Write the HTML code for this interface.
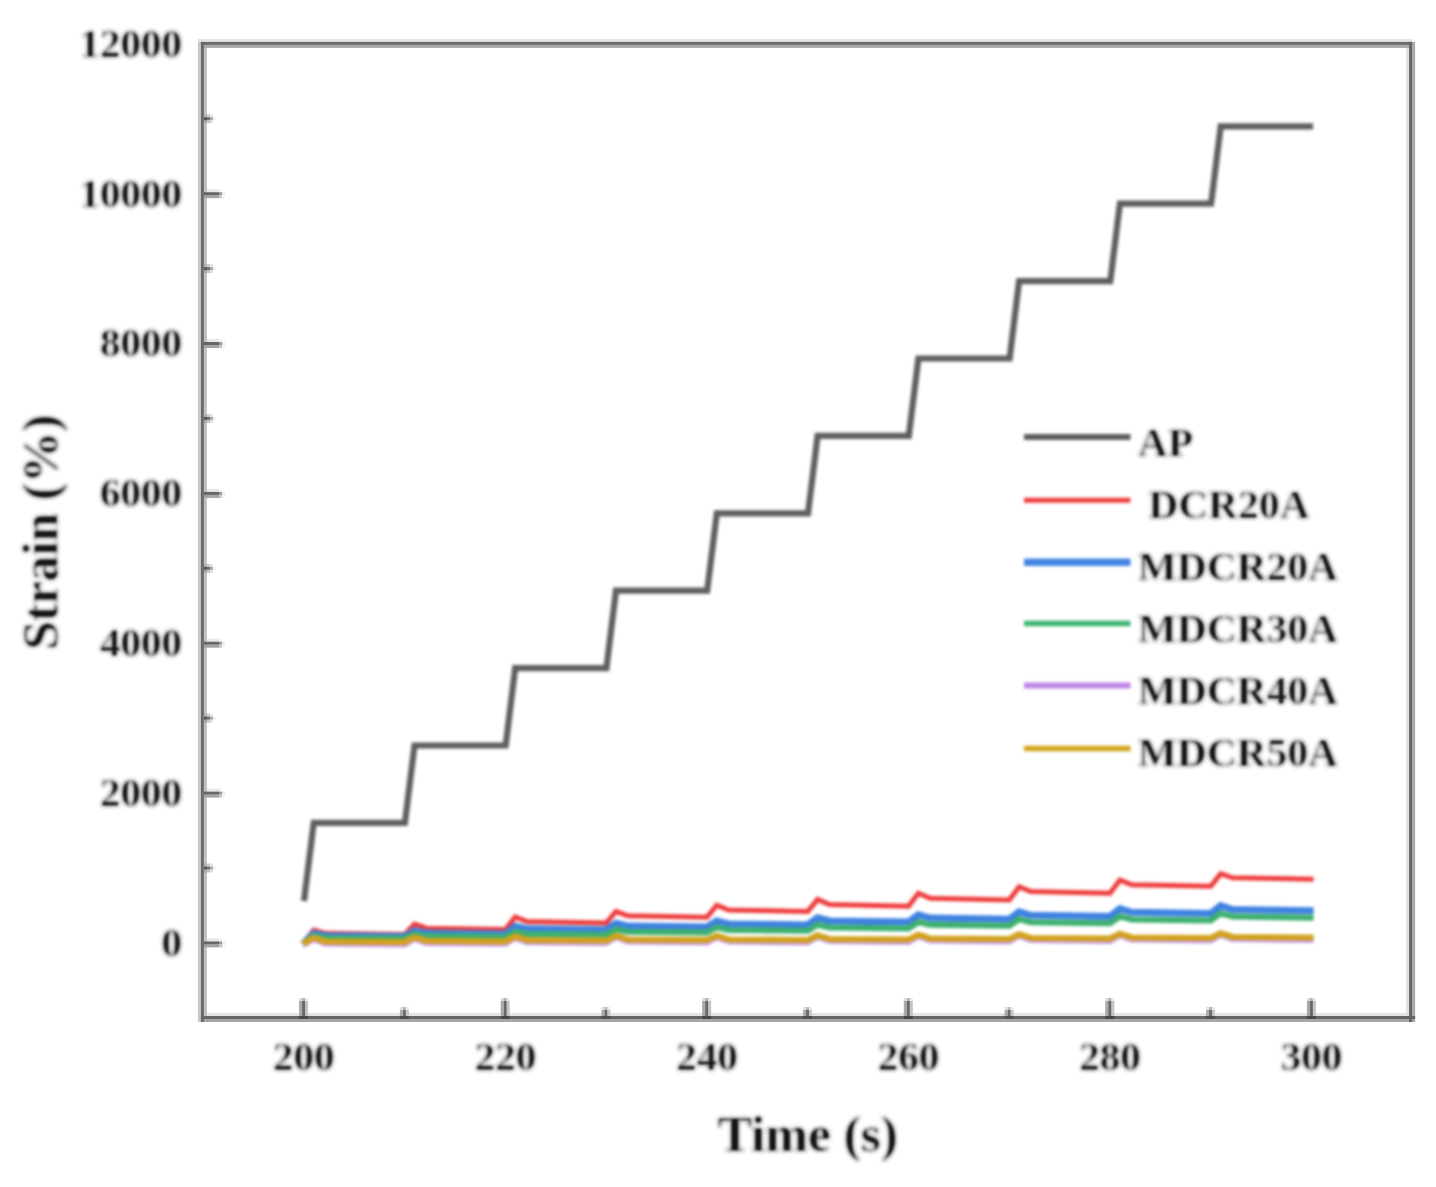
<!DOCTYPE html>
<html><head><meta charset="utf-8"><title>Strain vs Time</title>
<style>
html,body{margin:0;padding:0;background:#fff;}
body{width:1436px;height:1187px;overflow:hidden;}
svg{display:block;}
text{font-family:"Liberation Serif","DejaVu Serif",serif;font-weight:bold;fill:#141418;stroke:#ffffff;stroke-width:0px;}
.t40{font-size:41px;}
.t50{font-size:51.3px;}
polyline{fill:none;stroke-linejoin:miter;stroke-linecap:butt;}
.fb{filter:blur(0.5px);}
.lb{filter:blur(1.5px);}
.tb{filter:blur(2.0px);}
</style></head><body>
<svg width="1436" height="1187" viewBox="0 0 1436 1187">
<rect width="1436" height="1187" fill="#ffffff"/>
<g class="fb">
<rect x="219.0" y="938.4" width="3.0" height="3.0" fill="#f4f4f4"/>
<rect x="222.0" y="944.4" width="3.0" height="3.0" fill="#f4f4f4"/>
<rect x="219.0" y="788.6" width="3.0" height="3.0" fill="#f4f4f4"/>
<rect x="222.0" y="794.6" width="3.0" height="3.0" fill="#f4f4f4"/>
<rect x="219.0" y="638.7" width="3.0" height="3.0" fill="#f4f4f4"/>
<rect x="222.0" y="644.7" width="3.0" height="3.0" fill="#f4f4f4"/>
<rect x="219.0" y="488.9" width="3.0" height="3.0" fill="#f4f4f4"/>
<rect x="222.0" y="494.9" width="3.0" height="3.0" fill="#f4f4f4"/>
<rect x="219.0" y="339.0" width="3.0" height="3.0" fill="#f4f4f4"/>
<rect x="222.0" y="345.0" width="3.0" height="3.0" fill="#f4f4f4"/>
<rect x="219.0" y="189.2" width="3.0" height="3.0" fill="#f4f4f4"/>
<rect x="222.0" y="195.2" width="3.0" height="3.0" fill="#f4f4f4"/>
<rect x="213.0" y="866.5" width="3.0" height="3.0" fill="#f0f0f0"/>
<rect x="213.0" y="716.6" width="3.0" height="3.0" fill="#f0f0f0"/>
<rect x="213.0" y="566.8" width="3.0" height="3.0" fill="#f0f0f0"/>
<rect x="213.0" y="416.9" width="3.0" height="3.0" fill="#f0f0f0"/>
<rect x="213.0" y="267.1" width="3.0" height="3.0" fill="#f0f0f0"/>
<rect x="213.0" y="117.2" width="3.0" height="3.0" fill="#f0f0f0"/>
<rect x="222.0" y="941.4" width="3.0" height="3.0" fill="#ececec"/>
<rect x="222.0" y="791.6" width="3.0" height="3.0" fill="#ececec"/>
<rect x="222.0" y="641.7" width="3.0" height="3.0" fill="#ececec"/>
<rect x="222.0" y="491.9" width="3.0" height="3.0" fill="#ececec"/>
<rect x="222.0" y="342.0" width="3.0" height="3.0" fill="#ececec"/>
<rect x="222.0" y="192.2" width="3.0" height="3.0" fill="#ececec"/>
<rect x="405.9" y="1007.0" width="3.0" height="3.0" fill="#ececec"/>
<rect x="607.4" y="1007.0" width="3.0" height="3.0" fill="#ececec"/>
<rect x="809.0" y="1007.0" width="3.0" height="3.0" fill="#ececec"/>
<rect x="1010.6" y="1007.0" width="3.0" height="3.0" fill="#ececec"/>
<rect x="1212.1" y="1007.0" width="3.0" height="3.0" fill="#ececec"/>
<rect x="305.1" y="998.0" width="3.0" height="3.0" fill="#eaeaea"/>
<rect x="506.7" y="998.0" width="3.0" height="3.0" fill="#eaeaea"/>
<rect x="708.2" y="998.0" width="3.0" height="3.0" fill="#eaeaea"/>
<rect x="909.8" y="998.0" width="3.0" height="3.0" fill="#eaeaea"/>
<rect x="1111.3" y="998.0" width="3.0" height="3.0" fill="#eaeaea"/>
<rect x="1312.9" y="998.0" width="3.0" height="3.0" fill="#eaeaea"/>
<rect x="203.9" y="938.4" width="15.1" height="3.0" fill="#e8e8e8"/>
<rect x="203.9" y="788.6" width="15.1" height="3.0" fill="#e8e8e8"/>
<rect x="203.9" y="638.7" width="15.1" height="3.0" fill="#e8e8e8"/>
<rect x="203.9" y="488.9" width="15.1" height="3.0" fill="#e8e8e8"/>
<rect x="203.9" y="339.0" width="15.1" height="3.0" fill="#e8e8e8"/>
<rect x="203.9" y="189.2" width="15.1" height="3.0" fill="#e8e8e8"/>
<rect x="210.0" y="863.5" width="3.0" height="3.0" fill="#e6e6e6"/>
<rect x="210.0" y="713.6" width="3.0" height="3.0" fill="#e6e6e6"/>
<rect x="210.0" y="563.8" width="3.0" height="3.0" fill="#e6e6e6"/>
<rect x="210.0" y="413.9" width="3.0" height="3.0" fill="#e6e6e6"/>
<rect x="210.0" y="264.1" width="3.0" height="3.0" fill="#e6e6e6"/>
<rect x="210.0" y="114.2" width="3.0" height="3.0" fill="#e6e6e6"/>
<rect x="197.9" y="38.9" width="1214.2" height="3.0" fill="#e4e4e4"/>
<rect x="200.9" y="1013.0" width="1214.2" height="3.0" fill="#e4e4e4"/>
<rect x="210.0" y="869.5" width="3.0" height="3.0" fill="#e2e2e2"/>
<rect x="210.0" y="719.6" width="3.0" height="3.0" fill="#e2e2e2"/>
<rect x="210.0" y="569.8" width="3.0" height="3.0" fill="#e2e2e2"/>
<rect x="210.0" y="419.9" width="3.0" height="3.0" fill="#e2e2e2"/>
<rect x="210.0" y="270.1" width="3.0" height="3.0" fill="#e2e2e2"/>
<rect x="210.0" y="120.2" width="3.0" height="3.0" fill="#e2e2e2"/>
<rect x="399.9" y="1007.0" width="3.0" height="3.0" fill="#e0e0e0"/>
<rect x="601.4" y="1007.0" width="3.0" height="3.0" fill="#e0e0e0"/>
<rect x="803.0" y="1007.0" width="3.0" height="3.0" fill="#e0e0e0"/>
<rect x="1004.6" y="1007.0" width="3.0" height="3.0" fill="#e0e0e0"/>
<rect x="1206.1" y="1007.0" width="3.0" height="3.0" fill="#e0e0e0"/>
<rect x="1406.1" y="41.9" width="3.0" height="980.1" fill="#e0e0e0"/>
<rect x="299.1" y="998.0" width="3.0" height="3.0" fill="#dcdcdc"/>
<rect x="500.7" y="998.0" width="3.0" height="3.0" fill="#dcdcdc"/>
<rect x="702.2" y="998.0" width="3.0" height="3.0" fill="#dcdcdc"/>
<rect x="903.8" y="998.0" width="3.0" height="3.0" fill="#dcdcdc"/>
<rect x="1105.3" y="998.0" width="3.0" height="3.0" fill="#dcdcdc"/>
<rect x="1306.9" y="998.0" width="3.0" height="3.0" fill="#dcdcdc"/>
<rect x="207.0" y="863.5" width="3.0" height="3.0" fill="#cccccc"/>
<rect x="207.0" y="713.6" width="3.0" height="3.0" fill="#cccccc"/>
<rect x="207.0" y="563.8" width="3.0" height="3.0" fill="#cccccc"/>
<rect x="207.0" y="413.9" width="3.0" height="3.0" fill="#cccccc"/>
<rect x="207.0" y="264.1" width="3.0" height="3.0" fill="#cccccc"/>
<rect x="207.0" y="114.2" width="3.0" height="3.0" fill="#cccccc"/>
<rect x="219.0" y="944.4" width="3.0" height="3.0" fill="#c8c8c8"/>
<rect x="219.0" y="794.6" width="3.0" height="3.0" fill="#c8c8c8"/>
<rect x="219.0" y="644.7" width="3.0" height="3.0" fill="#c8c8c8"/>
<rect x="219.0" y="494.9" width="3.0" height="3.0" fill="#c8c8c8"/>
<rect x="219.0" y="345.0" width="3.0" height="3.0" fill="#c8c8c8"/>
<rect x="219.0" y="195.2" width="3.0" height="3.0" fill="#c8c8c8"/>
<rect x="405.9" y="1010.0" width="3.0" height="6.0" fill="#c8c8c8"/>
<rect x="607.4" y="1010.0" width="3.0" height="6.0" fill="#c8c8c8"/>
<rect x="809.0" y="1010.0" width="3.0" height="6.0" fill="#c8c8c8"/>
<rect x="1010.6" y="1010.0" width="3.0" height="6.0" fill="#c8c8c8"/>
<rect x="1212.1" y="1010.0" width="3.0" height="6.0" fill="#c8c8c8"/>
<rect x="197.9" y="41.9" width="3.0" height="980.1" fill="#c8c8c8"/>
<rect x="207.0" y="869.5" width="3.0" height="3.0" fill="#c4c4c4"/>
<rect x="207.0" y="719.6" width="3.0" height="3.0" fill="#c4c4c4"/>
<rect x="207.0" y="569.8" width="3.0" height="3.0" fill="#c4c4c4"/>
<rect x="207.0" y="419.9" width="3.0" height="3.0" fill="#c4c4c4"/>
<rect x="207.0" y="270.1" width="3.0" height="3.0" fill="#c4c4c4"/>
<rect x="207.0" y="120.2" width="3.0" height="3.0" fill="#c4c4c4"/>
<rect x="305.1" y="1001.0" width="3.0" height="15.0" fill="#c4c4c4"/>
<rect x="506.7" y="1001.0" width="3.0" height="15.0" fill="#c4c4c4"/>
<rect x="708.2" y="1001.0" width="3.0" height="15.0" fill="#c4c4c4"/>
<rect x="909.8" y="1001.0" width="3.0" height="15.0" fill="#c4c4c4"/>
<rect x="1111.3" y="1001.0" width="3.0" height="15.0" fill="#c4c4c4"/>
<rect x="1312.9" y="1001.0" width="3.0" height="15.0" fill="#c4c4c4"/>
<rect x="203.9" y="41.9" width="3.0" height="980.1" fill="#c0c0c0"/>
<rect x="402.9" y="1007.0" width="3.0" height="3.0" fill="#b8b8b8"/>
<rect x="604.4" y="1007.0" width="3.0" height="3.0" fill="#b8b8b8"/>
<rect x="806.0" y="1007.0" width="3.0" height="3.0" fill="#b8b8b8"/>
<rect x="1007.6" y="1007.0" width="3.0" height="3.0" fill="#b8b8b8"/>
<rect x="1209.1" y="1007.0" width="3.0" height="3.0" fill="#b8b8b8"/>
<rect x="203.9" y="863.5" width="3.1" height="3.0" fill="#b4b4b4"/>
<rect x="203.9" y="713.6" width="3.1" height="3.0" fill="#b4b4b4"/>
<rect x="203.9" y="563.8" width="3.1" height="3.0" fill="#b4b4b4"/>
<rect x="203.9" y="413.9" width="3.1" height="3.0" fill="#b4b4b4"/>
<rect x="203.9" y="264.1" width="3.1" height="3.0" fill="#b4b4b4"/>
<rect x="203.9" y="114.2" width="3.1" height="3.0" fill="#b4b4b4"/>
<rect x="302.1" y="998.0" width="3.0" height="3.0" fill="#b4b4b4"/>
<rect x="503.7" y="998.0" width="3.0" height="3.0" fill="#b4b4b4"/>
<rect x="705.2" y="998.0" width="3.0" height="3.0" fill="#b4b4b4"/>
<rect x="906.8" y="998.0" width="3.0" height="3.0" fill="#b4b4b4"/>
<rect x="1108.3" y="998.0" width="3.0" height="3.0" fill="#b4b4b4"/>
<rect x="1309.9" y="998.0" width="3.0" height="3.0" fill="#b4b4b4"/>
<rect x="399.9" y="1010.0" width="3.0" height="6.0" fill="#acacac"/>
<rect x="601.4" y="1010.0" width="3.0" height="6.0" fill="#acacac"/>
<rect x="803.0" y="1010.0" width="3.0" height="6.0" fill="#acacac"/>
<rect x="1004.6" y="1010.0" width="3.0" height="6.0" fill="#acacac"/>
<rect x="1206.1" y="1010.0" width="3.0" height="6.0" fill="#acacac"/>
<rect x="210.0" y="866.5" width="3.0" height="3.0" fill="#aaaaaa"/>
<rect x="210.0" y="716.6" width="3.0" height="3.0" fill="#aaaaaa"/>
<rect x="210.0" y="566.8" width="3.0" height="3.0" fill="#aaaaaa"/>
<rect x="210.0" y="416.9" width="3.0" height="3.0" fill="#aaaaaa"/>
<rect x="210.0" y="267.1" width="3.0" height="3.0" fill="#aaaaaa"/>
<rect x="210.0" y="117.2" width="3.0" height="3.0" fill="#aaaaaa"/>
<rect x="1412.1" y="41.9" width="3.0" height="980.1" fill="#aaaaaa"/>
<rect x="203.9" y="869.5" width="3.1" height="3.0" fill="#a8a8a8"/>
<rect x="203.9" y="719.6" width="3.1" height="3.0" fill="#a8a8a8"/>
<rect x="203.9" y="569.8" width="3.1" height="3.0" fill="#a8a8a8"/>
<rect x="203.9" y="419.9" width="3.1" height="3.0" fill="#a8a8a8"/>
<rect x="203.9" y="270.1" width="3.1" height="3.0" fill="#a8a8a8"/>
<rect x="203.9" y="120.2" width="3.1" height="3.0" fill="#a8a8a8"/>
<rect x="299.1" y="1001.0" width="3.0" height="15.0" fill="#a8a8a8"/>
<rect x="500.7" y="1001.0" width="3.0" height="15.0" fill="#a8a8a8"/>
<rect x="702.2" y="1001.0" width="3.0" height="15.0" fill="#a8a8a8"/>
<rect x="903.8" y="1001.0" width="3.0" height="15.0" fill="#a8a8a8"/>
<rect x="1105.3" y="1001.0" width="3.0" height="15.0" fill="#a8a8a8"/>
<rect x="1306.9" y="1001.0" width="3.0" height="15.0" fill="#a8a8a8"/>
<rect x="200.9" y="44.9" width="1211.2" height="3.0" fill="#a8a8a8"/>
<rect x="200.9" y="1019.0" width="1214.2" height="3.0" fill="#a6a6a6"/>
<rect x="203.9" y="944.4" width="15.1" height="3.0" fill="#a4a4a4"/>
<rect x="203.9" y="794.6" width="15.1" height="3.0" fill="#a4a4a4"/>
<rect x="203.9" y="644.7" width="15.1" height="3.0" fill="#a4a4a4"/>
<rect x="203.9" y="494.9" width="15.1" height="3.0" fill="#a4a4a4"/>
<rect x="203.9" y="345.0" width="15.1" height="3.0" fill="#a4a4a4"/>
<rect x="203.9" y="195.2" width="15.1" height="3.0" fill="#a4a4a4"/>
<rect x="219.0" y="941.4" width="3.0" height="3.0" fill="#9a9a9a"/>
<rect x="219.0" y="791.6" width="3.0" height="3.0" fill="#9a9a9a"/>
<rect x="219.0" y="641.7" width="3.0" height="3.0" fill="#9a9a9a"/>
<rect x="219.0" y="491.9" width="3.0" height="3.0" fill="#9a9a9a"/>
<rect x="219.0" y="342.0" width="3.0" height="3.0" fill="#9a9a9a"/>
<rect x="219.0" y="192.2" width="3.0" height="3.0" fill="#9a9a9a"/>
<rect x="207.0" y="866.5" width="3.0" height="3.0" fill="#6e6e6e"/>
<rect x="207.0" y="716.6" width="3.0" height="3.0" fill="#6e6e6e"/>
<rect x="207.0" y="566.8" width="3.0" height="3.0" fill="#6e6e6e"/>
<rect x="207.0" y="416.9" width="3.0" height="3.0" fill="#6e6e6e"/>
<rect x="207.0" y="267.1" width="3.0" height="3.0" fill="#6e6e6e"/>
<rect x="207.0" y="117.2" width="3.0" height="3.0" fill="#6e6e6e"/>
<rect x="402.9" y="1010.0" width="3.0" height="6.0" fill="#6c6c6c"/>
<rect x="604.4" y="1010.0" width="3.0" height="6.0" fill="#6c6c6c"/>
<rect x="806.0" y="1010.0" width="3.0" height="6.0" fill="#6c6c6c"/>
<rect x="1007.6" y="1010.0" width="3.0" height="6.0" fill="#6c6c6c"/>
<rect x="1209.1" y="1010.0" width="3.0" height="6.0" fill="#6c6c6c"/>
<rect x="200.9" y="41.9" width="1211.2" height="3.0" fill="#6c6c6c"/>
<rect x="200.9" y="41.9" width="3.0" height="980.1" fill="#6a6a6a"/>
<rect x="302.1" y="1001.0" width="3.0" height="15.0" fill="#686868"/>
<rect x="503.7" y="1001.0" width="3.0" height="15.0" fill="#686868"/>
<rect x="705.2" y="1001.0" width="3.0" height="15.0" fill="#686868"/>
<rect x="906.8" y="1001.0" width="3.0" height="15.0" fill="#686868"/>
<rect x="1108.3" y="1001.0" width="3.0" height="15.0" fill="#686868"/>
<rect x="1309.9" y="1001.0" width="3.0" height="15.0" fill="#686868"/>
<rect x="203.9" y="941.4" width="15.1" height="3.0" fill="#666666"/>
<rect x="203.9" y="791.6" width="15.1" height="3.0" fill="#666666"/>
<rect x="203.9" y="641.7" width="15.1" height="3.0" fill="#666666"/>
<rect x="203.9" y="491.9" width="15.1" height="3.0" fill="#666666"/>
<rect x="203.9" y="342.0" width="15.1" height="3.0" fill="#666666"/>
<rect x="203.9" y="192.2" width="15.1" height="3.0" fill="#666666"/>
<rect x="1409.1" y="41.9" width="3.0" height="980.1" fill="#666666"/>
<rect x="200.9" y="1016.0" width="1214.2" height="3.0" fill="#666666"/>
<rect x="203.9" y="866.5" width="3.1" height="3.0" fill="#585858"/>
<rect x="203.9" y="716.6" width="3.1" height="3.0" fill="#585858"/>
<rect x="203.9" y="566.8" width="3.1" height="3.0" fill="#585858"/>
<rect x="203.9" y="416.9" width="3.1" height="3.0" fill="#585858"/>
<rect x="203.9" y="267.1" width="3.1" height="3.0" fill="#585858"/>
<rect x="203.9" y="117.2" width="3.1" height="3.0" fill="#585858"/>
<rect x="399.9" y="1016.0" width="9.0" height="3.0" fill="#505050"/>
<rect x="601.4" y="1016.0" width="9.0" height="3.0" fill="#505050"/>
<rect x="803.0" y="1016.0" width="9.0" height="3.0" fill="#505050"/>
<rect x="1004.6" y="1016.0" width="9.0" height="3.0" fill="#505050"/>
<rect x="1206.1" y="1016.0" width="9.0" height="3.0" fill="#505050"/>
<rect x="299.1" y="1016.0" width="9.0" height="3.0" fill="#484848"/>
<rect x="500.7" y="1016.0" width="9.0" height="3.0" fill="#484848"/>
<rect x="702.2" y="1016.0" width="9.0" height="3.0" fill="#484848"/>
<rect x="903.8" y="1016.0" width="9.0" height="3.0" fill="#484848"/>
<rect x="1105.3" y="1016.0" width="9.0" height="3.0" fill="#484848"/>
<rect x="1306.9" y="1016.0" width="9.0" height="3.0" fill="#484848"/>
</g>
<g class="lb">
<polyline points="304.0,901.0 313.7,822.9 404.9,822.9 414.5,745.5 505.7,745.5 515.2,668.1 606.4,668.1 616.0,590.7 707.2,590.7 716.8,513.3 808.0,513.3 817.6,435.9 908.8,435.9 918.4,358.5 1009.6,358.5 1019.1,281.1 1110.3,281.1 1119.9,203.7 1211.1,203.7 1220.7,126.3 1313.1,126.3" stroke="#5e5e5e" stroke-width="6.2"/>
<polyline points="302.8,944.0 313.7,930.2 325.5,933.3 404.6,934.4 414.5,924.2 426.3,928.2 505.4,929.6 515.2,917.0 527.0,921.5 606.1,923.0 616.0,911.4 627.8,915.8 706.9,917.2 716.8,905.2 728.6,910.0 807.7,911.6 817.6,899.4 829.4,904.5 908.5,906.2 918.4,893.2 930.2,898.3 1009.3,900.0 1019.1,886.8 1030.9,891.6 1110.0,893.2 1119.9,880.0 1131.7,884.7 1210.8,886.2 1220.7,873.7 1232.5,877.8 1313.6,879.2" stroke="#ee3c3c" stroke-width="5"/>
<polyline points="302.8,944.0 313.7,933.5 325.5,935.8 404.6,936.5 414.5,930.7 426.3,933.1 505.4,933.9 515.2,926.3 527.0,928.8 606.1,929.7 616.0,923.3 627.8,926.1 706.9,927.0 716.8,921.0 728.6,923.9 807.7,924.9 817.6,917.9 829.4,921.0 908.5,922.0 918.4,914.9 930.2,918.1 1009.3,919.2 1019.1,911.9 1030.9,915.3 1110.0,916.4 1119.9,908.7 1131.7,912.3 1210.8,913.5 1220.7,905.7 1232.5,909.5 1313.6,910.7" stroke="#3f82e0" stroke-width="7"/>
<polyline points="302.8,944.0 313.7,935.9 325.5,937.9 404.6,938.5 414.5,934.0 426.3,936.1 505.4,936.8 515.2,931.7 527.0,934.0 606.1,934.7 616.0,929.4 627.8,931.8 706.9,932.6 716.8,927.4 728.6,929.9 807.7,930.8 817.6,924.8 829.4,927.5 908.5,928.4 918.4,922.0 930.2,924.8 1009.3,925.8 1019.1,919.2 1030.9,922.2 1110.0,923.2 1119.9,916.3 1131.7,919.5 1210.8,920.5 1220.7,913.3 1232.5,916.6 1313.6,917.7" stroke="#3cb06e" stroke-width="6"/>
<polyline points="302.8,945.0 313.7,939.2 325.5,943.6 404.6,944.4 414.5,938.6 426.3,943.0 505.4,943.8 515.2,937.8 527.0,942.2 606.1,943.0 616.0,937.2 627.8,941.6 706.9,942.4 716.8,937.2 728.6,941.6 807.7,942.4 817.6,936.7 829.4,941.1 908.5,941.9 918.4,936.2 930.2,940.6 1009.3,941.4 1019.1,935.7 1030.9,940.1 1110.0,940.9 1119.9,935.2 1131.7,939.6 1210.8,940.4 1220.7,934.7 1232.5,939.1 1313.6,939.9" stroke="#c79ae8" stroke-width="6"/>
<polyline points="302.8,943.5 313.7,937.7 325.5,941.4 404.6,942.0 414.5,937.1 426.3,940.8 505.4,941.4 515.2,936.3 527.0,940.0 606.1,940.6 616.0,935.7 627.8,939.4 706.9,940.0 716.8,935.7 728.6,939.4 807.7,940.0 817.6,935.2 829.4,938.9 908.5,939.5 918.4,934.7 930.2,938.4 1009.3,939.0 1019.1,934.2 1030.9,937.9 1110.0,938.5 1119.9,933.7 1131.7,937.4 1210.8,938.0 1220.7,933.2 1232.5,936.9 1313.6,937.5" stroke="#d2a11c" stroke-width="6"/>
<line x1="1024" y1="437.1" x2="1130.5" y2="437.1" stroke="#5c5c5c" stroke-width="6"/>
<line x1="1024" y1="500.3" x2="1130.5" y2="500.3" stroke="#ee3c3c" stroke-width="5"/>
<line x1="1024" y1="562.2" x2="1130.5" y2="562.2" stroke="#4285e0" stroke-width="7.5"/>
<line x1="1024" y1="623.5" x2="1130.5" y2="623.5" stroke="#3cb371" stroke-width="5.5"/>
<line x1="1024" y1="685.5" x2="1130.5" y2="685.5" stroke="#bf87e6" stroke-width="6"/>
<line x1="1024" y1="748.6" x2="1130.5" y2="748.6" stroke="#d4a41c" stroke-width="5.5"/>

</g>
<defs><filter id="tf" x="-5%" y="-5%" width="110%" height="110%" color-interpolation-filters="sRGB">
<feMorphology in="SourceGraphic" operator="erode" radius="1" result="er"/>
<feGaussianBlur in="er" stdDeviation="0.9" result="core"/>
<feGaussianBlur in="SourceGraphic" stdDeviation="2.0" result="halo"/>
<feComponentTransfer in="halo" result="halo2"><feFuncA type="linear" slope="0.65"/></feComponentTransfer>
<feMerge><feMergeNode in="halo2"/><feMergeNode in="core"/></feMerge>
</filter></defs>
<g filter="url(#tf)">
<text x="1138" y="456.0" class="t40" letter-spacing="0.3">AP</text>
<text x="1138" y="518.0" class="t40" letter-spacing="0.3"> DCR20A</text>
<text x="1138" y="580.0" class="t40" letter-spacing="0.3">MDCR20A</text>
<text x="1138" y="642.0" class="t40" letter-spacing="0.3">MDCR30A</text>
<text x="1138" y="704.0" class="t40" letter-spacing="0.3">MDCR40A</text>
<text x="1138" y="766.0" class="t40" letter-spacing="0.3">MDCR50A</text>

<text x="182" y="955.8" text-anchor="end" class="t40">0</text>
<text x="182" y="806.0" text-anchor="end" class="t40">2000</text>
<text x="182" y="656.1" text-anchor="end" class="t40">4000</text>
<text x="182" y="506.3" text-anchor="end" class="t40">6000</text>
<text x="182" y="356.4" text-anchor="end" class="t40">8000</text>
<text x="182" y="206.6" text-anchor="end" class="t40">10000</text>
<text x="182" y="56.7" text-anchor="end" class="t40">12000</text>

<text x="303.8" y="1069.8" text-anchor="middle" class="t40">200</text>
<text x="505.4" y="1069.8" text-anchor="middle" class="t40">220</text>
<text x="706.9" y="1069.8" text-anchor="middle" class="t40">240</text>
<text x="908.5" y="1069.8" text-anchor="middle" class="t40">260</text>
<text x="1110.0" y="1069.8" text-anchor="middle" class="t40">280</text>
<text x="1311.6" y="1069.8" text-anchor="middle" class="t40">300</text>

<text x="807.8" y="1151.3" text-anchor="middle" class="t50">Time (s)</text>
<text transform="translate(57.2,532.2) rotate(-90)" text-anchor="middle" class="t50">Strain (%)</text>
</g>
</svg>
</body></html>
